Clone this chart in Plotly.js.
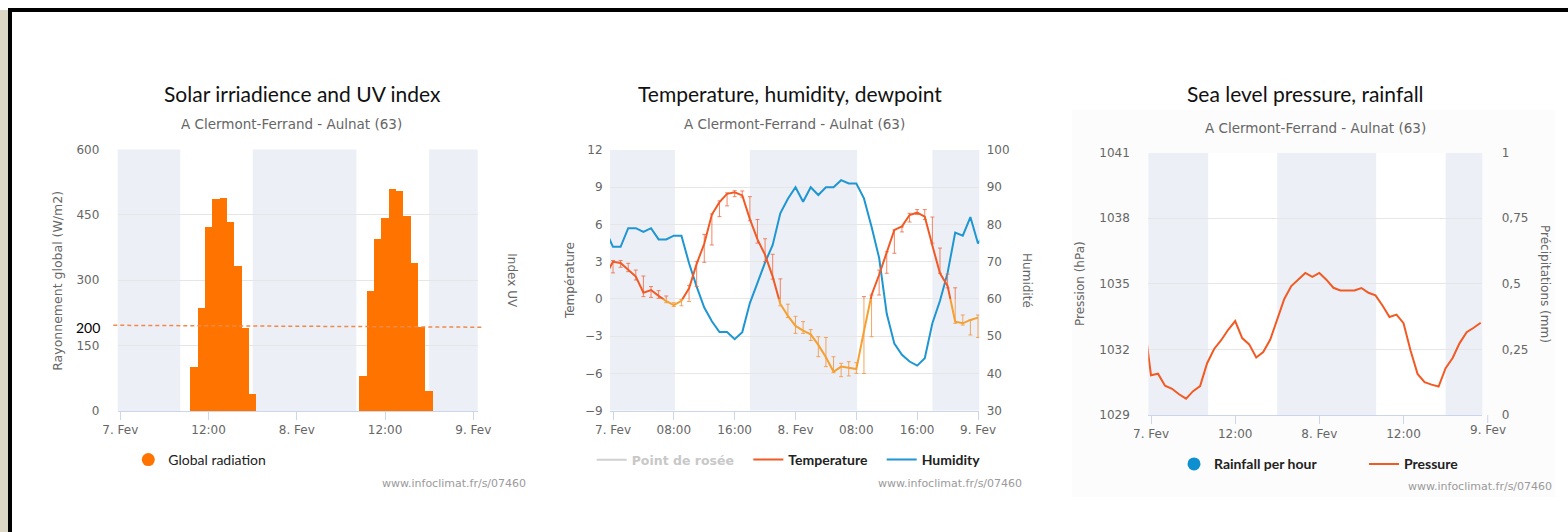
<!DOCTYPE html>
<html><head><meta charset="utf-8">
<script src="https://cdn.plot.ly/plotly-3.0.1.min.js"></script>
<style>html,body{margin:0;padding:0;background:#fff;}#chart{width:1568px;height:532px;}</style>
</head><body><div id="chart"></div>
<script>
const W = 1568, H = 532;

// ---------- data (hours counted from 7 Fev 00:00) ----------
const sunrise = [8.15, 32.1];
const sunset = [18.0, 42.0];

const dayTickVals = [0, 12, 24, 36, 48];
const dayTickText = ['7. Fev', '12:00', '8. Fev', '12:00', '9. Fev'];
const tempTickVals = [0, 8, 16, 24, 32, 40, 48];
const tempTickText = ['7. Fev', '08:00', '16:00', '8. Fev', '08:00', '16:00', '9. Fev'];

const radHours = [10, 11, 12, 13, 14, 15, 16, 17, 18, 33, 34, 35, 36, 37, 38, 39, 40, 41, 42];
const radValues = [100, 237, 423, 485, 488, 433, 332, 190, 40, 81, 276, 394, 443, 508, 505, 446, 339, 193, 46];

const tempHours = [-1, 0, 1, 2, 3, 4, 5, 6, 7, 8, 9, 10, 11, 12, 13, 14, 15, 16, 17, 18, 19, 20, 21, 22, 23, 24,
  25, 26, 27, 28, 29, 30, 31, 32, 33, 34, 35, 36, 37, 38, 39, 40, 41, 42, 43, 44, 45, 46, 47, 48];
const tempValues = [1.9, 3.0, 2.9, 2.35, 1.8, 0.5, 0.72, 0.25, -0.18, -0.49, -0.15, 0.86, 2.83, 4.45, 6.8, 7.8,
  8.47, 8.6, 8.34, 6.43, 4.8, 3.55, 1.8, -0.4, -1.36, -2.17, -2.55, -2.85, -3.7, -4.7, -5.86, -5.45, -5.55, -5.65,
  -2.6, 0.32, 1.95, 3.7, 5.56, 5.85, 6.76, 6.95, 6.63, 4.3, 2.07, 1.05, -1.83, -1.96, -1.69, -1.5];

const rangeHours = [0, 1, 2, 3, 4, 5, 6, 7, 8, 9, 10, 11, 12, 13, 14, 15, 16, 17, 18, 19, 20, 21, 22, 23, 24,
  25, 26, 27, 28, 29, 30, 31, 32, 33, 34, 35, 36, 37, 38, 39, 40, 41, 42, 43, 44, 45, 46, 47, 48];
const tempLow = [2.1, 2.55, 2.2, 1.53, 0.19, 0.13, 0.05, -0.3, -0.6, -0.55, -0.2, 1.0, 2.95, 4.35, 6.63, 7.5,
  8.24, 8.2, 6.3, 4.5, 3.0, 1.6, -0.55, -1.5, -2.77, -2.77, -3.35, -4.65, -5.45, -5.94, -6.26, -6.2, -5.99, -6.0,
  -3.04, 0.32, 2.07, 3.68, 5.4, 6.2, 6.8, 6.4, 4.5, 2.07, 0.9, -1.96, -2.1, -2.9, -3.1];
const tempHigh = [3.1, 3.1, 2.87, 2.33, 1.85, 1.0, 0.67, 0.24, -0.3, -0.05, 1.1, 3.0, 5.2, 6.85, 7.9, 8.55,
  8.72, 8.7, 8.24, 6.4, 4.85, 3.6, 1.62, -0.42, -1.4, -1.82, -2.47, -3.04, -3.1, -4.65, -5.18, -5.05, -5.13, 0.19,
  0.32, 2.33, 3.8, 5.56, 5.8, 6.9, 7.2, 7.2, 6.6, 4.1, 2.0, 0.9, -1.29, -1.7, -1.29];

const humHours = [-1, 0, 1, 2, 3, 4, 5, 6, 7, 8, 9, 10, 11, 12, 13, 14, 15, 16, 17, 18, 19, 20, 21, 22, 23, 24,
  25, 26, 27, 28, 29, 30, 31, 32, 33, 34, 35, 36, 37, 38, 39, 40, 41, 42, 43, 44, 45, 46, 47, 48, 49];
const humValues = [78.5, 74, 74, 79, 79, 78, 79, 76, 76, 77, 77, 69.6, 63.3, 57.7, 54, 51.1, 51.1, 49.2, 51.1,
  58.9, 64.3, 69.8, 74.5, 83, 86.9, 90, 86.1, 90, 87.9, 90, 90, 91.9, 91, 91, 87, 79.4, 71, 56, 48, 45, 43.2,
  42.1, 44.1, 53.5, 59.5, 67, 77.8, 77, 82, 74.9, 78];

// dew point series is hidden in the source chart (legend entry only)
const dewHours = [null];
const dewValues = [null];

const presHours = [-1, 0, 1, 2, 3, 4, 5, 6, 7, 8, 9, 10, 11, 12, 13, 14, 15, 16, 17, 18, 19, 20, 21, 22, 23, 24,
  25, 26, 27, 28, 29, 30, 31, 32, 33, 34, 35, 36, 37, 38, 39, 40, 41, 42, 43, 44, 45, 46, 47];
const presValues = [1033.3, 1030.82, 1030.89, 1030.34, 1030.2, 1029.95, 1029.75, 1030.09, 1030.32, 1031.37,
  1032.02, 1032.42, 1032.9, 1033.3, 1032.52, 1032.23, 1031.63, 1031.88, 1032.45, 1033.36, 1034.31, 1034.9,
  1035.2, 1035.5, 1035.32, 1035.5, 1035.19, 1034.82, 1034.7, 1034.7, 1034.7, 1034.81, 1034.59, 1034.47,
  1034.01, 1033.48, 1033.59, 1033.2, 1031.95, 1030.88, 1030.5, 1030.39, 1030.3, 1031.14, 1031.61, 1032.29,
  1032.79, 1032.99, 1033.22];

const rainHours = [0, 1, 2, 3, 4, 5, 6, 7, 8, 9, 10, 11, 12, 13, 14, 15, 16, 17, 18, 19, 20, 21, 22, 23,
  24, 25, 26, 27, 28, 29, 30, 31, 32, 33, 34, 35, 36, 37, 38, 39, 40, 41, 42, 43, 44, 45, 46, 47];
const rainValues = [0, 0, 0, 0, 0, 0, 0, 0, 0, 0, 0, 0, 0, 0, 0, 0, 0, 0, 0, 0, 0, 0, 0, 0,
  0, 0, 0, 0, 0, 0, 0, 0, 0, 0, 0, 0, 0, 0, 0, 0, 0, 0, 0, 0, 0, 0, 0, 0];

// ---------- helpers ----------
const fx = p => p / W;
const fy = p => 1 - p / H;
const TICKF = {family: 'DejaVu Sans', size: 12, color: '#666666'};
const GRID = '#e6e6e6';
const AXC = '#ccd6eb';
const BAND = '#eceff6';
const ORANGE_BAR = '#ff7300';
const RED = '#f15a24';
const AMBER = '#f5a030';
const BLUE = '#1e96d2';

function xAxis(l, r, range, vals, text, anchor) {
  return {domain: [fx(l), fx(r)], range: range, tickvals: vals, ticktext: text, ticks: 'outside', ticklen: 8,
    tickwidth: 1, tickcolor: AXC, showline: true, linecolor: AXC, linewidth: 1, showgrid: false,
    zeroline: false, tickfont: TICKF, anchor: anchor, fixedrange: true};
}
function yAxis(top, bot, range, vals, text, anchor, gap) {
  return {domain: [fy(bot), fy(top)], range: range, tickvals: vals, ticktext: text, ticks: 'outside',
    ticklen: gap, tickcolor: 'rgba(0,0,0,0)', showline: false, showgrid: true, gridcolor: GRID, gridwidth: 1,
    zeroline: false, tickfont: TICKF, anchor: anchor, fixedrange: true};
}

// chart geometry (pixels)
const P1 = {l: 117.7, r: 477.7, t: 149.3, b: 411};
const P2 = {l: 610, r: 979.3, t: 150, b: 410.7};
const P3 = {l: 1148.3, r: 1482.3, t: 152.7, b: 415};

const tRange = [-9, 12];
const zeroFrac = fy(P2.b) + (0 - tRange[0]) / (tRange[1] - tRange[0]) * (fy(P2.t) - fy(P2.b));

// ---------- traces ----------
const errSpan = tempHigh.map((h, i) => h - tempLow[i]);
const errZero = tempLow.map(() => 0);

const traces = [
  {type: 'bar', x: radHours, y: radValues, xaxis: 'x', yaxis: 'y', width: 1,
   marker: {color: ORANGE_BAR, line: {width: 0}}, showlegend: false, hoverinfo: 'skip'},
  {type: 'scatter', mode: 'markers', x: [null], y: [null], xaxis: 'x', yaxis: 'y',
   marker: {color: ORANGE_BAR, size: 13}, name: 'Global radiation', legend: 'legend'},

  {type: 'scatter', mode: 'lines', x: dewHours, y: dewValues, xaxis: 'x2', yaxis: 'y2',
   line: {color: '#d0d0d0', width: 2}, name: 'Point de rosée', legend: 'legend2'},
  {type: 'scatter', mode: 'lines', x: humHours, y: humValues, xaxis: 'x2', yaxis: 'y3',
   line: {color: BLUE, width: 2}, name: 'Humidity', legend: 'legend4', hoverinfo: 'skip'},
  {type: 'scatter', mode: 'markers', x: rangeHours, y: tempLow, xaxis: 'x2', yaxis: 'y6',
   marker: {size: 1, opacity: 0}, showlegend: false, hoverinfo: 'skip',
   error_y: {type: 'data', symmetric: false, array: errSpan, arrayminus: errZero,
     color: 'rgba(238,105,65,0.8)', thickness: 1, width: 2}},
  {type: 'scatter', mode: 'markers', x: rangeHours, y: tempLow, xaxis: 'x2', yaxis: 'y7',
   marker: {size: 1, opacity: 0}, showlegend: false, hoverinfo: 'skip',
   error_y: {type: 'data', symmetric: false, array: errSpan, arrayminus: errZero,
     color: 'rgba(242,150,70,0.85)', thickness: 1, width: 2}},
  {type: 'scatter', mode: 'lines', x: tempHours, y: tempValues, xaxis: 'x2', yaxis: 'y6',
   line: {color: RED, width: 2}, name: 'Temperature', legend: 'legend3', hoverinfo: 'skip'},
  {type: 'scatter', mode: 'lines', x: tempHours, y: tempValues, xaxis: 'x2', yaxis: 'y7',
   line: {color: AMBER, width: 2}, showlegend: false, hoverinfo: 'skip'},

  {type: 'bar', x: rainHours, y: rainValues, xaxis: 'x3', yaxis: 'y5', width: 0.8,
   marker: {color: '#0e8fd0', line: {width: 0}}, showlegend: false, hoverinfo: 'skip'},
  {type: 'scatter', mode: 'markers', x: [null], y: [null], xaxis: 'x3', yaxis: 'y5',
   marker: {color: '#0e8fd0', size: 13}, name: 'Rainfall per hour', legend: 'legend5'},
  {type: 'scatter', mode: 'lines', x: presHours, y: presValues, xaxis: 'x3', yaxis: 'y4',
   line: {color: '#f25a24', width: 2}, name: 'Pressure', legend: 'legend6', hoverinfo: 'skip'}
];

// ---------- shapes ----------
const shapes = [];
// chart 3 faint frame & white plot background
shapes.push({type: 'rect', xref: 'paper', yref: 'paper', x0: fx(1072), x1: fx(1555), y0: fy(497), y1: fy(110),
  fillcolor: '#fcfcfc', line: {width: 0}, layer: 'below'});
shapes.push({type: 'rect', xref: 'x3', yref: 'y4', x0: -2, x1: 50, y0: 1029, y1: 1041,
  fillcolor: '#ffffff', line: {width: 0}, layer: 'below'});
// night bands
function nightBands(xr, yr, y0, y1) {
  const edges = [[-2, sunrise[0]], [sunset[0], sunrise[1]], [sunset[1], 50]];
  edges.forEach(e => shapes.push({type: 'rect', xref: xr, yref: yr, x0: e[0], x1: e[1], y0: y0, y1: y1,
    fillcolor: BAND, line: {width: 0}, layer: 'below'}));
}
nightBands('x', 'y', 0, 600);
nightBands('x2', 'y2', -9, 12);
nightBands('x3', 'y4', 1029, 1041);
// hand-drawn 200 marker in chart 1
shapes.push({type: 'line', xref: 'paper', yref: 'paper', x0: fx(113.3), x1: fx(481.7), y0: fy(325.3), y1: fy(327.2),
  line: {color: '#f08a4b', width: 1.5, dash: '4px,3px'}, layer: 'above'});
// 9. Fev tick of chart 3 (just outside the plotted range)
shapes.push({type: 'line', xref: 'paper', yref: 'paper', x0: fx(1487.7), x1: fx(1487.7), y0: fy(415), y1: fy(423),
  line: {color: AXC, width: 1}});
// page decoration: beige strip and black frame
shapes.push({type: 'rect', xref: 'paper', yref: 'paper', x0: 0, x1: fx(8), y0: 0, y1: fy(10),
  fillcolor: '#dcd7c5', line: {width: 0}, layer: 'above'});
shapes.push({type: 'rect', xref: 'paper', yref: 'paper', x0: fx(8), x1: fx(12), y0: 0, y1: fy(8),
  fillcolor: '#000000', line: {width: 0}, layer: 'above'});
shapes.push({type: 'rect', xref: 'paper', yref: 'paper', x0: fx(8), x1: 1, y0: fy(12), y1: fy(8),
  fillcolor: '#000000', line: {width: 0}, layer: 'above'});

// ---------- annotations ----------
const ann = [];
function txt(text, x, y, font, extra) {
  ann.push(Object.assign({text: text, xref: 'paper', yref: 'paper', x: fx(x), y: fy(y), xanchor: 'center',
    yanchor: 'middle', showarrow: false, font: font}, extra || {}));
}
const TITLEF = {family: 'Lato', size: 21, color: '#111111'};
const SUBF = {family: 'DejaVu Sans', size: 13.5, color: '#666666'};
const AXTF = {family: 'DejaVu Sans', size: 12, color: '#666666'};
const FOOTF = {family: 'DejaVu Sans', size: 11, color: '#9a9a9a'};

txt('Solar irriadience and UV index', 302.8, 94, TITLEF);
txt('Temperature, humidity, dewpoint', 790.5, 94, TITLEF);
txt('Sea level pressure, rainfall', 1305, 94, TITLEF);
txt('A Clermont-Ferrand - Aulnat (63)', 291.7, 124.4, SUBF);
txt('A Clermont-Ferrand - Aulnat (63)', 794, 124.3, SUBF);
txt('A Clermont-Ferrand - Aulnat (63)', 1315.2, 127.7, SUBF);

txt('Rayonnement global (W/m2)', 57.3, 280.5, {family: 'DejaVu Sans', size: 12.5, color: '#666666'}, {textangle: -90});
txt('Index UV', 511.7, 281, AXTF, {textangle: 90});
txt('Température', 569.3, 280.8, AXTF, {textangle: -90});
txt('Humidité', 1026.7, 280.8, AXTF, {textangle: 90});
txt('Pression (hPa)', 1080, 284, AXTF, {textangle: -90});
txt('Précipitations (mm)', 1545, 284, AXTF, {textangle: 90});

txt('www.infoclimat.fr/s/07460', 454, 483, FOOTF);
txt('www.infoclimat.fr/s/07460', 949.5, 483.3, FOOTF);
txt('www.infoclimat.fr/s/07460', 1480, 486.7, FOOTF);

txt('200', 88.3, 327, {family: 'Lato', size: 14, color: '#000000'});
txt('9. Fev', 1487.7, 430, TICKF);

// ---------- legends ----------
function legendAt(xText, yCenter, font) {
  return {x: fx(xText - 40), y: fy(yCenter), xanchor: 'left', yanchor: 'middle', orientation: 'h',
    bgcolor: 'rgba(0,0,0,0)', borderwidth: 0, font: font, itemclick: false, itemdoubleclick: false};
}
const LEGB = {family: 'Lato', size: 14, color: '#222222', weight: 700};

const layout = {
  width: W, height: H, margin: {l: 0, r: 0, t: 0, b: 0},
  paper_bgcolor: '#ffffff', plot_bgcolor: 'rgba(0,0,0,0)',
  bargap: 0,
  xaxis: xAxis(P1.l, P1.r, [-0.354, 48.6], dayTickVals, dayTickText, 'y'),
  yaxis: yAxis(P1.t, P1.b, [0, 600], [0, 150, 300, 450, 600], null, 'x', 15),
  xaxis2: xAxis(P2.l, P2.r, [-0.395, 48.17], tempTickVals, tempTickText, 'y2'),
  yaxis2: yAxis(P2.t, P2.b, tRange, [-9, -6, -3, 0, 3, 6, 9, 12], null, 'x2', 4),
  yaxis3: Object.assign(yAxis(P2.t, P2.b, [30, 100], [30, 40, 50, 60, 70, 80, 90, 100], null, 'x2', 4),
    {overlaying: 'y2', side: 'right', showgrid: false}),
  yaxis6: {domain: [zeroFrac, fy(P2.t)], range: [0, tRange[1]], anchor: 'x2', visible: false, fixedrange: true},
  yaxis7: {domain: [fy(P2.b), zeroFrac], range: [tRange[0], 0], anchor: 'x2', visible: false, fixedrange: true},
  xaxis3: xAxis(P3.l, P3.r, [-0.385, 47.23], dayTickVals, dayTickText, 'y4'),
  yaxis4: yAxis(P3.t, P3.b, [1029, 1041], [1029, 1032, 1035, 1038, 1041], null, 'x3', 15),
  yaxis5: Object.assign(yAxis(P3.t, P3.b, [0, 1], [0, 0.25, 0.5, 0.75, 1], ['0', '0,25', '0,5', '0,75', '1'], 'x3', 16),
    {overlaying: 'y4', side: 'right', showgrid: false}),
  legend: legendAt(168.3, 460, {family: 'Lato', size: 14, color: '#222222'}),
  legend2: legendAt(631.7, 460, {family: 'DejaVu Sans', size: 12.5, color: '#c8c8c8', weight: 700}),
  legend3: legendAt(788.3, 460, LEGB),
  legend4: legendAt(921.7, 460, LEGB),
  legend5: legendAt(1214, 464.3, LEGB),
  legend6: legendAt(1404, 464.3, LEGB),
  shapes: shapes,
  annotations: ann,
  showlegend: true
};

Plotly.newPlot('chart', traces, layout, {displayModeBar: false, staticPlot: true});
</script>
</body></html>
